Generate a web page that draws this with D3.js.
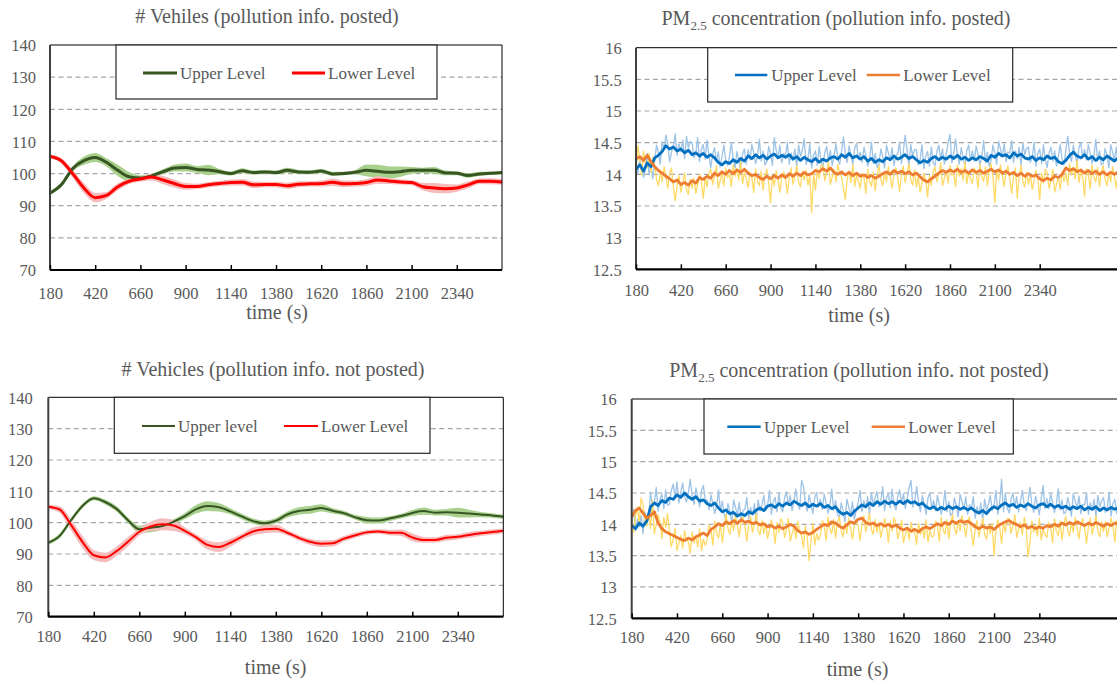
<!DOCTYPE html>
<html>
<head>
<meta charset="utf-8">
<script src="https://cdn.jsdelivr.net/npm/d3@7"></script>
<style>
  html, body { margin: 0; padding: 0; background: #fff; overflow: hidden; }
  svg { display: block; }
</style>
</head>
<body>
<svg id="chart" width="1117" height="683"></svg>
<script>
// ---------------- shared axes ----------------
const xTickLabels = [180, 420, 660, 900, 1140, 1380, 1620, 1860, 2100, 2340];
const vehYTicks = [70, 80, 90, 100, 110, 120, 130, 140];
const pmYTicks = [12.5, 13, 13.5, 14, 14.5, 15, 15.5, 16];

// sample times (s)
const vehTime = d3.range(180, 2581, 60);    // vehicle counts, one per minute
const pmTime = d3.range(180, 2761, 20);     // smoothed PM2.5, every 20 s
const pmRawTime = d3.range(180, 2761, 10);  // raw PM2.5, every 10 s

// ---------------- # vehicles, pollution info posted ----------------
const vehPostedUpper = [
  93.9, 96.5, 101.5, 104.0, 105.0, 103.5, 101.0, 99.0, 98.6, 99.3,
  100.6, 101.7, 101.9, 101.3, 101.1, 100.6, 100.0, 100.9, 100.3, 100.5,
  100.3, 101.0, 100.5, 100.4, 100.8, 99.9, 100.0, 100.4, 101.0, 100.7,
  100.4, 100.6, 101.0, 101.0, 101.0, 100.2, 100.1, 99.4, 99.9, 100.1,
  100.3
];
const vehPostedUpperSpread = [
  0.3, 0.4, 0.5, 1.0, 1.2, 1.0, 1.5, 1.2, 0.6, 0.4,
  0.5, 0.8, 1.0, 0.8, 1.4, 0.6, 0.4, 0.5, 0.4, 0.4,
  0.4, 0.6, 0.4, 0.4, 0.4, 0.4, 0.3, 0.4, 1.6, 1.8,
  1.6, 1.4, 0.8, 0.6, 0.8, 0.5, 0.4, 0.5, 0.4, 0.3,
  0.3
];
const vehPostedLower = [
  105.3, 104.0, 100.0, 95.5, 92.5, 93.2, 95.9, 97.6, 98.3, 98.9,
  98.0, 96.9, 96.0, 96.0, 96.5, 96.9, 97.2, 97.3, 96.5, 96.6,
  96.6, 96.2, 96.7, 96.8, 96.9, 97.3, 96.8, 96.9, 97.2, 98.0,
  97.7, 97.4, 97.2, 95.9, 95.5, 95.3, 95.5, 96.5, 97.6, 97.6,
  97.4
];
const vehPostedLowerSpread = [
  0.4, 0.5, 0.8, 1.2, 1.2, 0.8, 0.8, 0.6, 0.5, 0.8,
  1.0, 1.0, 0.8, 0.6, 0.6, 0.6, 0.7, 0.8, 0.8, 0.6,
  0.6, 0.7, 0.7, 0.6, 0.7, 0.9, 0.8, 0.7, 0.8, 0.9,
  0.7, 0.6, 0.6, 0.9, 1.3, 1.2, 0.9, 0.8, 0.6, 0.7,
  0.6
];

// ---------------- # vehicles, pollution info not posted ----------------
const vehNotPostedUpper = [
  93.6, 95.8, 100.8, 105.3, 107.8, 106.6, 104.4, 100.8, 97.9, 98.4,
  98.9, 100.3, 102.1, 104.3, 105.3, 104.9, 103.6, 102.0, 100.5, 99.8,
  100.6, 102.6, 103.7, 104.1, 104.7, 103.8, 103.0, 101.7, 100.8, 100.7,
  101.3, 102.1, 103.1, 103.7, 103.2, 103.3, 103.2, 102.9, 102.6, 102.3,
  101.9
];
const vehNotPostedUpperSpread = [
  0.3, 0.4, 0.4, 0.4, 0.4, 0.5, 0.6, 0.5, 0.9, 1.2,
  0.9, 0.5, 0.7, 1.1, 1.3, 1.1, 0.7, 0.6, 0.6, 0.6,
  0.6, 0.7, 0.9, 1.0, 0.9, 0.6, 0.5, 0.5, 0.8, 0.7,
  0.5, 0.5, 0.7, 0.9, 0.7, 0.8, 1.3, 1.0, 0.6, 0.5,
  0.4
];
const vehNotPostedLower = [
  105.1, 104.2, 99.3, 93.9, 89.6, 88.9, 90.9, 93.9, 97.1, 98.8,
  99.5, 99.1, 97.4, 95.3, 92.9, 92.2, 93.6, 95.5, 97.2, 97.9,
  98.1, 96.8, 95.2, 93.9, 93.3, 93.4, 94.9, 96.0, 96.9, 97.2,
  96.8, 96.8, 95.3, 94.5, 94.5, 95.2, 95.5, 96.1, 96.6, 97.0,
  97.4
];
const vehNotPostedLowerSpread = [
  0.4, 0.8, 1.3, 1.5, 1.3, 1.3, 1.2, 1.2, 0.8, 1.2,
  1.7, 1.5, 0.8, 0.7, 1.2, 1.3, 1.0, 0.7, 1.0, 1.0,
  1.0, 0.6, 0.6, 0.7, 0.8, 0.8, 0.6, 0.6, 0.5, 0.5,
  0.6, 0.8, 1.0, 0.7, 0.6, 0.7, 0.6, 0.7, 0.6, 0.6,
  0.5
];

// ---------------- PM2.5, pollution info posted ----------------
const pmPostedUpperRaw = [
  14.17, 14.01, 14.25, 14.11, 13.95, 14.07, 14.33, 13.99, 14.15, 13.93,
  14.22, 14.46, 14.34, 14.16, 14.52, 14.40, 14.62, 14.48, 14.20, 14.35,
  14.45, 14.64, 14.30, 14.48, 14.36, 14.54, 14.25, 14.60, 14.42, 14.52,
  14.50, 14.26, 14.34, 14.58, 14.20, 14.40, 14.47, 14.24, 14.54, 14.30,
  14.10, 14.32, 14.42, 14.20, 14.36, 14.12, 14.28, 14.46, 14.22, 14.14,
  14.28, 14.50, 14.24, 14.10, 14.36, 14.22, 14.06, 14.32, 14.40, 14.16,
  14.39, 14.23, 14.47, 14.33, 14.17, 14.29, 14.55, 14.21, 14.37, 14.15,
  14.20, 14.44, 14.32, 14.14, 14.58, 14.38, 14.26, 14.46, 14.18, 14.33,
  14.31, 14.50, 14.16, 14.34, 14.22, 14.40, 14.11, 14.46, 14.28, 14.38,
  14.56, 14.16, 14.24, 14.48, 14.10, 14.30, 14.37, 14.14, 14.44, 14.20,
  14.12, 14.34, 14.44, 14.22, 14.38, 14.14, 14.30, 14.48, 14.24, 14.16,
  14.37, 14.59, 14.33, 14.19, 14.45, 14.31, 14.15, 14.41, 14.49, 14.25,
  14.35, 14.19, 14.43, 14.29, 14.13, 14.25, 14.51, 14.17, 14.33, 14.11,
  14.16, 14.40, 14.28, 14.10, 14.46, 14.34, 14.22, 14.42, 14.14, 14.29,
  14.32, 14.51, 14.17, 14.35, 14.62, 14.41, 14.12, 14.47, 14.29, 14.39,
  14.39, 14.15, 14.23, 14.47, 14.09, 14.29, 14.36, 14.13, 14.43, 14.19,
  14.14, 14.36, 14.46, 14.24, 14.40, 14.16, 14.32, 14.50, 14.63, 14.18,
  14.34, 14.56, 14.30, 14.16, 14.42, 14.28, 14.12, 14.38, 14.46, 14.22,
  14.37, 14.21, 14.45, 14.31, 14.15, 14.27, 14.53, 14.19, 14.35, 14.13,
  14.22, 14.46, 14.34, 14.16, 14.52, 14.40, 14.28, 14.48, 14.20, 14.35,
  14.34, 14.53, 14.19, 14.37, 14.25, 14.43, 14.14, 14.49, 14.31, 14.41,
  14.43, 14.19, 14.27, 14.51, 14.13, 14.33, 14.40, 14.17, 14.47, 14.23,
  14.11, 14.33, 14.43, 14.21, 14.37, 14.13, 14.29, 14.47, 14.23, 14.15,
  14.38, 14.60, 14.34, 14.20, 14.46, 14.32, 14.16, 14.42, 14.50, 14.26,
  14.39, 14.23, 14.47, 14.33, 14.17, 14.29, 14.55, 14.21, 14.37, 14.15,
  14.17, 14.41, 14.29, 14.11, 14.47, 14.35, 14.23, 14.43, 14.15
];
const pmPostedLowerRaw = [
  14.07, 14.45, 14.23, 13.99, 14.37, 14.17, 14.10, 14.33, 14.03, 14.27,
  14.14, 13.92, 13.82, 14.04, 13.88, 14.12, 13.96, 13.78, 14.02, 14.10,
  13.80, 13.58, 13.84, 13.98, 13.72, 13.86, 14.02, 13.76, 13.68, 13.92,
  13.78, 13.94, 13.70, 13.84, 14.00, 13.88, 13.62, 13.96, 13.80, 14.02,
  14.08, 13.84, 13.96, 14.14, 13.78, 13.90, 14.02, 13.82, 14.10, 13.95,
  14.00, 13.81, 14.15, 13.97, 14.09, 13.91, 14.20, 13.85, 14.03, 13.93,
  13.79, 14.03, 13.95, 13.71, 14.09, 13.89, 13.82, 14.05, 13.75, 13.99,
  14.08, 13.86, 13.55, 13.98, 13.82, 14.06, 13.90, 13.72, 13.96, 14.04,
  13.92, 13.70, 13.96, 14.10, 13.84, 13.98, 14.14, 13.88, 13.80, 14.04,
  13.91, 14.07, 13.83, 13.97, 13.40, 14.01, 13.75, 14.09, 13.93, 14.15,
  14.14, 13.90, 14.02, 14.20, 13.84, 13.96, 14.08, 13.88, 14.16, 14.01,
  13.96, 13.77, 13.60, 13.93, 14.05, 13.87, 14.16, 13.81, 13.99, 13.89,
  13.78, 14.02, 13.94, 13.70, 14.08, 13.88, 13.81, 14.04, 13.74, 13.98,
  14.14, 13.92, 13.82, 14.04, 13.88, 14.12, 13.96, 13.78, 14.02, 14.10,
  13.95, 13.73, 13.99, 14.13, 13.87, 14.01, 14.17, 13.91, 13.83, 14.07,
  13.80, 13.96, 13.72, 13.86, 14.02, 13.90, 13.64, 13.98, 13.82, 14.04,
  14.12, 13.88, 14.00, 14.18, 13.82, 13.94, 14.06, 13.86, 14.14, 13.99,
  14.00, 13.81, 14.15, 13.97, 14.09, 13.91, 14.20, 13.85, 14.03, 13.93,
  13.86, 14.10, 14.02, 13.78, 14.16, 13.96, 13.89, 14.12, 13.82, 14.06,
  14.17, 13.95, 13.55, 14.07, 13.91, 14.15, 13.99, 13.81, 14.05, 14.13,
  13.92, 13.70, 13.96, 14.10, 13.62, 13.98, 14.14, 13.88, 13.80, 14.04,
  13.84, 14.00, 13.76, 13.90, 14.06, 13.94, 13.60, 14.02, 13.86, 14.08,
  14.02, 13.78, 13.90, 14.08, 13.72, 13.84, 13.96, 13.76, 14.04, 13.89,
  14.02, 13.83, 14.17, 13.99, 14.11, 13.93, 14.22, 13.87, 14.05, 13.95,
  13.65, 14.09, 14.01, 13.77, 14.15, 13.95, 13.88, 14.11, 13.81, 14.05,
  14.14, 13.92, 13.82, 14.04, 13.88, 14.12, 13.96, 13.78, 14.02
];
const pmPostedUpper = [
  14.08, 14.15, 14.05, 14.18, 14.12, 14.26, 14.30, 14.36, 14.45, 14.40,
  14.43, 14.37, 14.40, 14.34, 14.38, 14.31, 14.34, 14.29, 14.33, 14.27,
  14.31, 14.26, 14.19, 14.15, 14.20, 14.17, 14.23, 14.19, 14.25, 14.21,
  14.29, 14.25, 14.31, 14.26, 14.30, 14.24, 14.29, 14.32, 14.26, 14.30,
  14.27, 14.31, 14.24, 14.28, 14.22, 14.27, 14.23, 14.20, 14.25, 14.19,
  14.24, 14.21, 14.26, 14.28, 14.24, 14.31, 14.27, 14.33, 14.26, 14.29,
  14.24, 14.28, 14.21, 14.25, 14.19, 14.23, 14.20, 14.26, 14.23, 14.29,
  14.24, 14.27, 14.31, 14.25, 14.28, 14.23, 14.18, 14.22, 14.19, 14.25,
  14.28, 14.23, 14.27, 14.24, 14.29, 14.25, 14.30, 14.24, 14.27, 14.22,
  14.26, 14.23, 14.28, 14.25, 14.21, 14.30, 14.27, 14.33, 14.29, 14.31,
  14.26, 14.34, 14.29, 14.32, 14.26, 14.24, 14.28, 14.22, 14.26, 14.23,
  14.29, 14.25, 14.27, 14.20, 14.17, 14.22, 14.30, 14.35, 14.29, 14.26,
  14.31, 14.24, 14.28, 14.22, 14.27, 14.23, 14.29, 14.25, 14.21, 14.26
];
const pmPostedLower = [
  14.24, 14.28, 14.22, 14.30, 14.20, 14.12, 14.06, 14.02, 13.97, 13.93,
  13.88, 13.91, 13.84, 13.87, 13.83, 13.90, 13.86, 13.95, 13.92, 13.97,
  13.94, 14.02, 13.98, 14.04, 14.00, 14.06, 14.01, 14.07, 14.03, 14.08,
  14.02, 13.98, 14.00, 13.95, 13.92, 13.97, 13.93, 13.98, 13.94, 13.99,
  13.95, 14.01, 13.97, 14.02, 13.98, 14.03, 13.99, 14.01, 14.06, 14.04,
  14.09, 14.05, 14.10, 14.03, 14.00, 14.04, 13.99, 14.03, 13.98, 14.02,
  13.97, 13.99, 13.95, 13.98, 13.94, 13.97, 14.01, 14.04, 14.00, 14.06,
  14.02, 14.05, 14.01, 14.04, 13.99, 14.02, 13.96, 13.91, 13.88, 13.93,
  13.97, 14.02, 14.06, 14.03, 14.07, 14.04, 14.08, 14.03, 14.06, 14.02,
  14.07, 14.03, 14.06, 14.02, 14.05, 14.08, 14.04, 14.07, 14.02, 14.05,
  14.00, 14.03, 13.98, 14.02, 13.97, 14.01, 13.97, 13.99, 13.93, 13.90,
  13.94, 13.91, 13.97, 13.95, 14.00, 14.10, 14.06, 14.09, 14.04, 14.07,
  14.02, 14.06, 14.01, 14.05, 14.00, 14.04, 13.99, 14.03, 14.00, 14.04
];

// ---------------- PM2.5, pollution info not posted ----------------
const pmNotPostedUpperRaw = [
  14.05, 14.24, 13.90, 14.08, 13.96, 14.14, 13.85, 14.20, 14.02, 14.12,
  14.51, 14.27, 14.35, 14.59, 14.21, 14.41, 14.48, 14.25, 14.55, 14.31,
  14.32, 14.54, 14.64, 14.42, 14.68, 14.34, 14.50, 14.66, 14.44, 14.36,
  14.50, 14.72, 14.46, 14.32, 14.58, 14.44, 14.28, 14.54, 14.62, 14.38,
  14.39, 14.23, 14.47, 14.33, 14.17, 14.29, 14.55, 14.21, 14.37, 14.15,
  14.09, 14.33, 14.21, 14.03, 14.39, 14.27, 14.15, 14.35, 14.07, 14.22,
  14.24, 14.43, 14.09, 14.27, 14.15, 14.33, 14.04, 14.39, 14.21, 14.31,
  14.46, 14.22, 14.30, 14.54, 14.16, 14.36, 14.43, 14.20, 14.50, 14.26,
  14.20, 14.42, 14.52, 14.30, 14.46, 14.22, 14.38, 14.56, 14.32, 14.24,
  14.70, 14.61, 14.35, 14.21, 14.47, 14.33, 14.17, 14.43, 14.51, 14.27,
  14.40, 14.24, 14.48, 14.34, 14.18, 14.30, 14.56, 14.22, 14.38, 14.16,
  14.10, 14.34, 14.22, 14.04, 14.40, 14.28, 14.16, 14.36, 14.08, 14.23,
  14.35, 14.54, 14.20, 14.38, 14.26, 14.44, 14.15, 14.50, 14.32, 14.42,
  14.52, 14.28, 14.36, 14.60, 14.22, 14.42, 14.49, 14.26, 14.56, 14.32,
  14.23, 14.45, 14.55, 14.33, 14.49, 14.25, 14.41, 14.59, 14.70, 14.27,
  14.38, 14.60, 14.34, 14.20, 14.46, 14.32, 14.16, 14.42, 14.50, 14.26,
  14.38, 14.22, 14.46, 14.32, 14.16, 14.28, 14.54, 14.20, 14.36, 14.14,
  14.18, 14.42, 14.30, 14.12, 14.48, 14.36, 14.24, 14.44, 14.16, 14.31,
  14.25, 14.44, 14.10, 14.28, 14.16, 14.34, 14.05, 14.40, 14.22, 14.32,
  14.46, 14.22, 14.30, 14.54, 14.16, 14.36, 14.72, 14.20, 14.50, 14.26,
  14.18, 14.40, 14.50, 14.28, 14.44, 14.20, 14.36, 14.54, 14.30, 14.22,
  14.37, 14.59, 14.33, 14.19, 14.45, 14.31, 14.15, 14.41, 14.62, 14.25,
  14.41, 14.25, 14.49, 14.35, 14.19, 14.31, 14.57, 14.23, 14.39, 14.17,
  14.19, 14.43, 14.31, 14.13, 14.49, 14.37, 14.25, 14.45, 14.17, 14.32,
  14.31, 14.50, 14.16, 14.34, 14.22, 14.40, 14.11, 14.46, 14.28, 14.38,
  14.43, 14.19, 14.27, 14.51, 14.13, 14.33, 14.40, 14.17, 14.47
];
const pmNotPostedLowerRaw = [
  14.09, 13.87, 14.13, 14.27, 14.01, 14.42, 14.31, 14.05, 13.97, 14.21,
  13.93, 14.38, 13.85, 13.99, 14.15, 14.03, 13.77, 14.11, 13.95, 14.17,
  13.88, 13.64, 13.76, 13.94, 13.58, 13.70, 13.82, 13.62, 13.90, 13.75,
  13.73, 13.54, 13.88, 13.70, 13.82, 13.64, 13.93, 13.58, 13.76, 13.66,
  13.75, 13.99, 13.91, 13.67, 14.05, 13.85, 13.78, 14.01, 13.71, 13.95,
  14.16, 13.94, 13.84, 14.06, 13.90, 14.14, 13.98, 13.80, 14.04, 14.12,
  13.95, 13.73, 13.99, 14.13, 13.87, 14.01, 14.17, 13.91, 13.83, 14.07,
  13.85, 14.01, 13.77, 13.91, 14.07, 13.95, 13.69, 14.03, 13.87, 14.09,
  14.03, 13.79, 13.91, 14.09, 13.73, 13.85, 13.97, 13.77, 14.05, 13.90,
  13.82, 13.63, 13.97, 13.79, 13.42, 13.73, 14.02, 13.67, 13.85, 13.75,
  13.82, 14.06, 13.98, 13.74, 14.12, 13.92, 13.85, 14.08, 13.78, 14.02,
  14.12, 13.90, 13.80, 14.02, 13.86, 14.10, 13.94, 13.76, 14.00, 14.08,
  13.96, 13.74, 14.00, 14.14, 13.88, 14.02, 14.18, 13.92, 13.84, 14.08,
  13.87, 14.03, 13.79, 13.93, 14.09, 13.97, 13.71, 14.05, 13.89, 14.11,
  14.01, 13.77, 13.89, 14.07, 13.71, 13.83, 13.95, 13.75, 14.03, 13.88,
  13.87, 13.68, 14.02, 13.84, 13.96, 13.78, 14.07, 13.72, 13.90, 13.80,
  13.81, 14.05, 13.97, 13.73, 14.11, 13.91, 13.84, 14.07, 13.77, 14.01,
  14.16, 13.94, 13.84, 14.06, 13.90, 14.14, 13.98, 13.80, 14.04, 14.12,
  13.88, 13.66, 13.92, 14.06, 13.80, 13.94, 14.10, 13.84, 13.76, 14.00,
  13.85, 14.01, 13.50, 13.91, 14.07, 13.95, 13.69, 14.03, 13.87, 14.09,
  14.09, 13.85, 13.97, 14.15, 13.79, 13.91, 14.03, 13.83, 14.11, 13.96,
  13.48, 13.71, 14.05, 13.87, 13.99, 13.81, 14.10, 13.75, 13.93, 13.83,
  13.79, 14.03, 13.95, 13.71, 14.09, 13.89, 13.82, 14.05, 13.75, 13.99,
  14.13, 13.91, 13.81, 14.03, 13.87, 14.11, 13.95, 13.77, 14.01, 14.09,
  13.92, 13.70, 13.96, 14.10, 13.84, 13.98, 14.14, 13.88, 13.80, 14.04,
  13.88, 14.04, 13.80, 13.94, 14.10, 13.98, 13.72, 14.06, 13.90
];
const pmNotPostedUpper = [
  13.98, 13.93, 14.02, 13.97, 14.05, 14.28, 14.34, 14.30, 14.38, 14.35,
  14.42, 14.40, 14.47, 14.43, 14.50, 14.44, 14.40, 14.44, 14.37, 14.39,
  14.33, 14.30, 14.34, 14.26, 14.20, 14.23, 14.17, 14.19, 14.13, 14.17,
  14.14, 14.20, 14.17, 14.23, 14.26, 14.22, 14.29, 14.31, 14.27, 14.33,
  14.29, 14.34, 14.31, 14.37, 14.33, 14.30, 14.34, 14.28, 14.32, 14.29,
  14.33, 14.27, 14.30, 14.25, 14.28, 14.20, 14.16, 14.19, 14.14, 14.21,
  14.26, 14.31, 14.28, 14.34, 14.30, 14.36, 14.32, 14.37, 14.33, 14.36,
  14.32, 14.37, 14.33, 14.38, 14.34, 14.36, 14.31, 14.34, 14.28, 14.25,
  14.28, 14.23, 14.27, 14.24, 14.29, 14.25, 14.28, 14.24, 14.27, 14.23,
  14.26, 14.21, 14.18, 14.22, 14.17, 14.24, 14.28, 14.25, 14.31, 14.34,
  14.29, 14.32, 14.27, 14.31, 14.28, 14.33, 14.29, 14.26, 14.31, 14.33,
  14.28, 14.32, 14.27, 14.30, 14.26, 14.29, 14.24, 14.28, 14.25, 14.29,
  14.23, 14.27, 14.24, 14.28, 14.22, 14.26, 14.23, 14.27, 14.24, 14.26
];
const pmNotPostedLower = [
  14.12, 14.22, 14.26, 14.18, 14.10, 14.14, 14.20, 14.02, 13.93, 13.88,
  13.85, 13.82, 13.79, 13.76, 13.74, 13.78, 13.75, 13.80, 13.83, 13.86,
  13.82, 13.92, 13.96, 14.01, 13.98, 14.04, 14.01, 14.06, 14.02, 14.07,
  14.03, 14.05, 14.01, 14.03, 13.99, 14.01, 13.96, 13.98, 13.94, 13.97,
  13.93, 13.96, 14.00, 13.97, 13.90, 13.86, 13.88, 13.84, 13.87, 13.92,
  13.96, 14.00, 13.98, 14.04, 14.02, 13.97, 13.94, 13.99, 14.04, 14.02,
  14.08, 14.10, 14.03, 14.00, 14.02, 13.98, 14.01, 13.97, 14.00, 13.96,
  13.99, 13.94, 13.91, 13.94, 13.89, 13.92, 13.88, 13.93, 13.96, 13.93,
  13.97, 14.01, 13.98, 14.03, 14.00, 14.05, 14.02, 14.06, 14.03, 14.05,
  14.01, 13.96, 13.93, 13.97, 13.94, 13.96, 13.92, 13.97, 14.01, 14.04,
  14.06, 14.02, 14.00, 13.96, 13.99, 13.94, 13.97, 13.93, 13.96, 13.94,
  13.98, 13.96, 14.00, 13.97, 14.02, 13.99, 14.03, 14.00, 14.04, 14.01,
  13.98, 14.02, 13.99, 14.03, 14.00, 13.97, 14.01, 13.98, 14.02, 14.00
];

// ---------------- styling ----------------
const FONT = '"Liberation Serif", "Times New Roman", serif';
const TEXT = "#595959";
const C = {
  green: "#375623", greenLight: "#a9d18e",
  red: "#ff0000", redLight: "#f6bcbc",
  blue: "#0070c0", blueLight: "#9dc3e6",
  orange: "#ed7d31", yellow: "#ffd966"
};

const svg = d3.select("#chart");
const defs = svg.append("defs");

const panels = [
  {
    id: "vp", left: 50, right: 502, top: 45, bottom: 270, xEnd: 2580,
    yDomain: [70, 140], yTicks: vehYTicks, yPad: 14,
    title: ["# Vehiles (pollution info. posted)"], titleX: 267, titleY: 16,
    xLabelY: 23, axisTitleX: 277, axisTitleY: 312,
    series: [
      { type: "band", t: vehTime, v: vehPostedUpper, w: vehPostedUpperSpread, color: C.greenLight },
      { type: "band", t: vehTime, v: vehPostedLower, w: vehPostedLowerSpread, color: C.redLight },
      { type: "line", t: vehTime, v: vehPostedUpper, color: C.green, width: 3, smooth: true },
      { type: "line", t: vehTime, v: vehPostedLower, color: C.red, width: 3, smooth: true }
    ],
    legend: { x0: 116, y0: 45, x1: 437, y1: 99, ly: 73, width: 3,
      items: [
        { x1: 143, x2: 177, tx: 180, color: C.green, label: "Upper Level" },
        { x1: 292, x2: 325, tx: 328, color: C.red, label: "Lower Level" }
      ] }
  },
  {
    id: "pp", left: 636, right: 1118.2, top: 47.7, bottom: 269.3, xEnd: 2760,
    yDomain: [12.5, 16], yTicks: pmYTicks, yPad: 14.3,
    title: ["PM", "2.5", " concentration (pollution info. posted)"], titleX: 836, titleY: 18.3,
    xLabelY: 21, axisTitleX: 859, axisTitleY: 315,
    series: [
      { type: "line", t: pmRawTime, v: pmPostedUpperRaw, color: C.blueLight, width: 1.3 },
      { type: "line", t: pmRawTime, v: pmPostedLowerRaw, color: C.yellow, width: 1.3 },
      { type: "line", t: pmTime, v: pmPostedUpper, color: C.blue, width: 2.8 },
      { type: "line", t: pmTime, v: pmPostedLower, color: C.orange, width: 2.8 }
    ],
    legend: { x0: 707.7, y0: 47.7, x1: 1012.7, y1: 102, ly: 75, width: 2.4,
      items: [
        { x1: 735, x2: 767.3, tx: 771.3, color: C.blue, label: "Upper Level" },
        { x1: 866.7, x2: 900, tx: 903.3, color: C.orange, label: "Lower Level" }
      ] }
  },
  {
    id: "vn", left: 48.3, right: 503.3, top: 397.3, bottom: 616.7, xEnd: 2580,
    yDomain: [70, 140], yTicks: vehYTicks, yPad: 15.6,
    title: ["# Vehicles (pollution info. not posted)"], titleX: 273, titleY: 369.3,
    xLabelY: 19.5, axisTitleX: 275.7, axisTitleY: 667,
    series: [
      { type: "band", t: vehTime, v: vehNotPostedUpper, w: vehNotPostedUpperSpread, color: C.greenLight },
      { type: "band", t: vehTime, v: vehNotPostedLower, w: vehNotPostedLowerSpread, color: C.redLight },
      { type: "line", t: vehTime, v: vehNotPostedUpper, color: C.green, width: 2, smooth: true },
      { type: "line", t: vehTime, v: vehNotPostedLower, color: C.red, width: 2, smooth: true }
    ],
    legend: { x0: 114.3, y0: 397.3, x1: 430, y1: 453.3, ly: 426, width: 2,
      items: [
        { x1: 142, x2: 175, tx: 178, color: C.green, label: "Upper level" },
        { x1: 284, x2: 318, tx: 321, color: C.red, label: "Lower Level" }
      ] }
  },
  {
    id: "pn", left: 631.7, right: 1118.6, top: 399, bottom: 618.3, xEnd: 2760,
    yDomain: [12.5, 16], yTicks: pmYTicks, yPad: 15,
    title: ["PM", "2.5", " concentration (pollution info. not posted)"], titleX: 859, titleY: 370,
    xLabelY: 19.4, axisTitleX: 857.5, axisTitleY: 669.3,
    series: [
      { type: "line", t: pmRawTime, v: pmNotPostedUpperRaw, color: C.blueLight, width: 1.3 },
      { type: "line", t: pmRawTime, v: pmNotPostedLowerRaw, color: C.yellow, width: 1.3 },
      { type: "line", t: pmTime, v: pmNotPostedUpper, color: C.blue, width: 2.8 },
      { type: "line", t: pmTime, v: pmNotPostedLower, color: C.orange, width: 2.8 }
    ],
    legend: { x0: 704, y0: 399, x1: 1013.3, y1: 454, ly: 426.7, width: 2.4,
      items: [
        { x1: 727.3, x2: 760.7, tx: 764, color: C.blue, label: "Upper Level" },
        { x1: 871.7, x2: 905, tx: 908.3, color: C.orange, label: "Lower Level" }
      ] }
  }
];

function drawPanel(p) {
  const g = svg.append("g").attr("class", "panel-" + p.id);
  const x = d3.scaleLinear().domain([180, p.xEnd]).range([p.left, p.right]);
  const y = d3.scaleLinear().domain(p.yDomain).range([p.bottom, p.top]);

  defs.append("clipPath").attr("id", "clip-" + p.id)
    .append("rect")
    .attr("x", p.left).attr("y", p.top)
    .attr("width", p.right - p.left).attr("height", p.bottom - p.top);

  // dashed horizontal gridlines
  g.append("g").selectAll("line")
    .data(p.yTicks.slice(1, -1))
    .join("line")
    .attr("x1", p.left).attr("x2", p.right)
    .attr("y1", d => y(d)).attr("y2", d => y(d))
    .attr("stroke", "#a6a6a6").attr("stroke-width", 1.2)
    .attr("stroke-dasharray", "5,3.5");

  // series
  const dg = g.append("g").attr("clip-path", `url(#clip-${p.id})`);
  p.series.forEach(s => {
    const pts = s.t.map((t, i) => ({ t, v: s.v[i], w: s.w ? s.w[i] : 0 }))
      .filter(d => d.v !== undefined);
    if (s.type === "band") {
      const area = d3.area()
        .x(d => x(d.t))
        .y0(d => y(d.v - d.w))
        .y1(d => y(d.v + d.w))
        .curve(d3.curveMonotoneX);
      dg.append("path").datum(pts)
        .attr("d", area)
        .attr("fill", s.color)
        .attr("stroke", s.color).attr("stroke-width", 1.5)
        .attr("stroke-linejoin", "round");
    } else {
      const line = d3.line()
        .x(d => x(d.t))
        .y(d => y(d.v))
        .curve(s.smooth ? d3.curveMonotoneX : d3.curveLinear);
      dg.append("path").datum(pts)
        .attr("d", line)
        .attr("fill", "none")
        .attr("stroke", s.color)
        .attr("stroke-width", s.width)
        .attr("stroke-linejoin", "round");
    }
  });

  // plot frame
  g.append("line").attr("x1", p.left).attr("x2", p.right)
    .attr("y1", p.top).attr("y2", p.top).attr("stroke", "#000").attr("stroke-width", 1);
  g.append("line").attr("x1", p.right).attr("x2", p.right)
    .attr("y1", p.top).attr("y2", p.bottom).attr("stroke", "#000").attr("stroke-width", 1);
  g.append("line").attr("x1", p.left).attr("x2", p.left)
    .attr("y1", p.top).attr("y2", p.bottom).attr("stroke", "#404040").attr("stroke-width", 2);

  // x axis (ticks point into the plot)
  const xa = g.append("g").attr("transform", `translate(0,${p.bottom})`)
    .call(d3.axisBottom(x).tickValues(xTickLabels).tickSizeInner(-5).tickSizeOuter(0)
      .tickFormat(d3.format("d")));
  xa.attr("font-family", FONT).attr("font-size", 16.5);
  xa.select(".domain").attr("d", `M${p.left},0H${p.right}`)
    .attr("stroke", "#000").attr("stroke-width", 2.2);
  xa.selectAll(".tick line").attr("stroke", "#000").attr("stroke-width", 1.5);
  xa.selectAll(".tick text").attr("y", p.xLabelY).attr("dy", "0.35em").attr("fill", TEXT);

  // y axis labels
  const ya = g.append("g").attr("transform", `translate(${p.left},0)`)
    .call(d3.axisLeft(y).tickValues(p.yTicks).tickSize(0).tickPadding(p.yPad)
      .tickFormat(d => String(d)));
  ya.attr("font-family", FONT).attr("font-size", 16.5);
  ya.select(".domain").remove();
  ya.selectAll(".tick text").attr("fill", TEXT).attr("dy", "0.35em");

  // title
  const tt = g.append("text")
    .attr("x", p.titleX).attr("y", p.titleY).attr("dy", "0.35em")
    .attr("text-anchor", "middle")
    .attr("font-family", FONT).attr("font-size", 20).attr("fill", TEXT);
  if (p.title.length === 1) {
    tt.text(p.title[0]);
  } else {
    tt.append("tspan").text(p.title[0]);
    tt.append("tspan").attr("font-size", 13).attr("dy", 5).text(p.title[1]);
    tt.append("tspan").attr("dy", -5).text(p.title[2]);
  }

  // axis title
  g.append("text")
    .attr("x", p.axisTitleX).attr("y", p.axisTitleY).attr("dy", "0.35em")
    .attr("text-anchor", "middle")
    .attr("font-family", FONT).attr("font-size", 20).attr("fill", TEXT)
    .text("time (s)");

  // legend
  const L = p.legend;
  const lg = g.append("g");
  lg.append("rect")
    .attr("x", L.x0).attr("y", L.y0)
    .attr("width", L.x1 - L.x0).attr("height", L.y1 - L.y0)
    .attr("fill", "#fff").attr("stroke", "#262626").attr("stroke-width", 1.2);
  L.items.forEach(it => {
    lg.append("line")
      .attr("x1", it.x1).attr("x2", it.x2).attr("y1", L.ly).attr("y2", L.ly)
      .attr("stroke", it.color).attr("stroke-width", L.width);
    lg.append("text")
      .attr("x", it.tx).attr("y", L.ly).attr("dy", "0.35em")
      .attr("font-family", FONT).attr("font-size", 17).attr("fill", TEXT)
      .text(it.label);
  });
}

panels.forEach(drawPanel);
</script>
</body>
</html>
